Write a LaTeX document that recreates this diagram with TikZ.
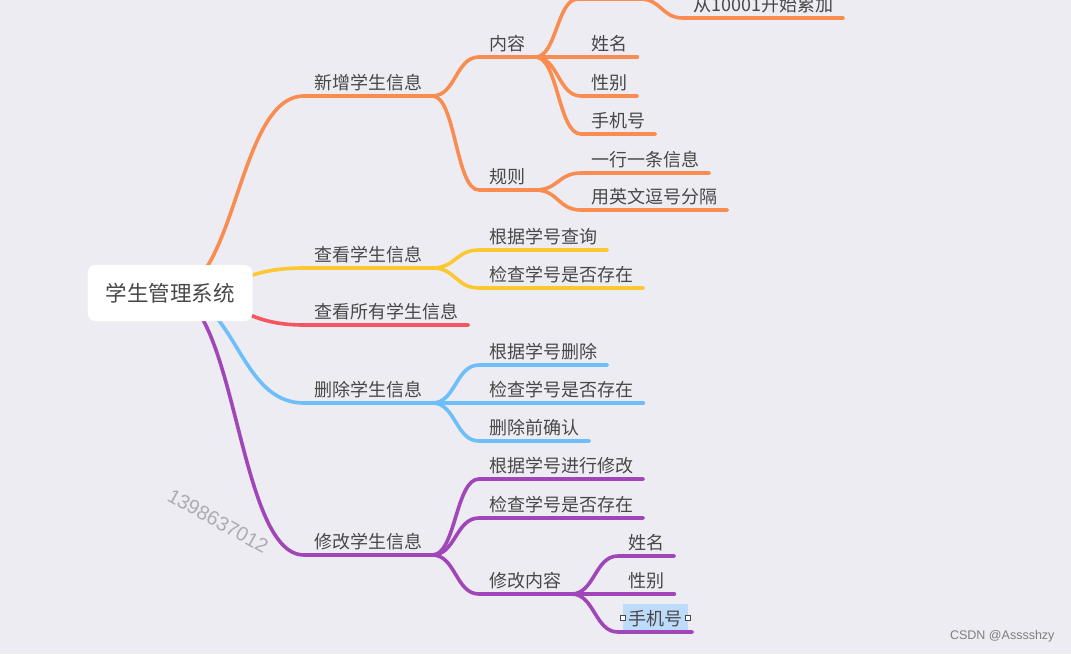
\documentclass[tikz,border=0pt]{standalone}
\usepackage{fontspec}
\setmainfont{Liberation Sans}
\newfontfamily\cjk{Noto Sans CJK SC}
\usetikzlibrary{calc}

\definecolor{paper}{RGB}{236,236,242}
\definecolor{ink}{RGB}{72,72,72}
\definecolor{wm}{RGB}{172,172,178}
\definecolor{cAdd}{RGB}{249,140,80}
\definecolor{cShow}{RGB}{252,200,50}
\definecolor{cAll}{RGB}{245,85,95}
\definecolor{cDel}{RGB}{110,190,250}
\definecolor{cMod}{RGB}{160,70,185}
\definecolor{cSel}{RGB}{190,220,250}

\tikzset{
  topic/.style={anchor=south west, inner xsep=10pt, inner ysep=4pt, text depth=2pt, text=ink,
    font=\cjk\fontsize{18pt}{18pt}\selectfont},
  rootbox/.style={fill=white, rounded corners=8pt, minimum width=165pt, minimum height=56pt,
    text=ink, font=\cjk\fontsize{21.5pt}{21.5pt}\selectfont},
  branch/.style={line width=3.6pt, line cap=round, draw=#1},
  curvy/.style={to path={let \p1=(\tikztostart), \p2=(\tikztotarget) in
    .. controls ({(\x1+\x2)/2},\y1) and ({(\x1+\x2)/2},\y2) .. (\tikztotarget)}},
  handle/.style={draw=ink, fill=white, line width=0.6pt, minimum size=5pt, inner sep=0pt},
}

\begin{document}
\begin{tikzpicture}[x=1pt,y=1pt]
  \useasboundingbox (0,0) rectangle (1071,-654);
  \fill[paper] (0,0) rectangle (1071,-654);

  \coordinate (hub) at (170,-293);
  \node[fill=cSel, minimum width=65pt, minimum height=27pt, inner sep=0pt] (sel) at (655.5,-617.5) {};
  \node[handle] (selw) at (sel.west) {};
  \node[handle] (sele) at (sel.east) {};

  % first level
  \node[topic] (add) at (304,-96) {新增学生信息};
  \node[topic] (show) at (304,-268) {查看学生信息};
  \node[topic] (all) at (304,-325) {查看所有学生信息};
  \node[topic] (del) at (304,-403) {删除学生信息};
  \node[topic] (mod) at (304,-555) {修改学生信息};

  \node[topic] (content) at (479,-57) {内容};
  \node[topic] (rule) at (479,-190) {规则};
  \coordinate (idno-s) at (578,1);
  \coordinate (idno-e) at (640,1);
  \node[topic] (idstart) at (683,-18) {从10001开始累加};
  \node[topic] (name) at (581,-57) {姓名};
  \node[topic] (sex) at (581,-96) {性别};
  \node[topic] (phone) at (581,-134) {手机号};
  \node[topic] (oneline) at (581,-173) {一行一条信息};
  \node[topic] (comma) at (581,-210) {用英文逗号分隔};

  \node[topic] (showid) at (479,-250) {根据学号查询};
  \node[topic] (showchk) at (479,-288) {检查学号是否存在};

  \node[topic] (delid) at (479,-365) {根据学号删除};
  \node[topic] (delchk) at (479,-403) {检查学号是否存在};
  \node[topic] (delok) at (479,-441) {删除前确认};

  \node[topic] (modid) at (479,-479) {根据学号进行修改};
  \node[topic] (modchk) at (479,-518) {检查学号是否存在};
  \node[topic] (modwhat) at (479,-594) {修改内容};
  \node[topic] (mname) at (618,-556) {姓名};
  \node[topic] (msex) at (618,-594) {性别};
  \node[topic] (mphone) at (618,-632) {手机号};

  % branches
  \draw[branch=cAdd] (hub) to[curvy] (add.south west) -- (add.south east);
  \draw[branch=cAdd] (add.south east) to[curvy] (content.south west) -- (content.south east);
  \draw[branch=cAdd] (add.south east) to[curvy] (rule.south west) -- (rule.south east);
  \draw[branch=cAdd] (content.south east) to[curvy] (idno-s) -- (idno-e)
    to[curvy] (idstart.south west) -- (idstart.south east);
  \draw[branch=cAdd] (content.south east) to[curvy] (name.south west) -- (name.south east);
  \draw[branch=cAdd] (content.south east) to[curvy] (sex.south west) -- (sex.south east);
  \draw[branch=cAdd] (content.south east) to[curvy] (phone.south west) -- (phone.south east);
  \draw[branch=cAdd] (rule.south east) to[curvy] (oneline.south west) -- (oneline.south east);
  \draw[branch=cAdd] (rule.south east) to[curvy] (comma.south west) -- (comma.south east);

  \draw[branch=cShow] (hub) to[curvy] (show.south west) -- (show.south east);
  \draw[branch=cShow] (show.south east) to[curvy] (showid.south west) -- (showid.south east);
  \draw[branch=cShow] (show.south east) to[curvy] (showchk.south west) -- (showchk.south east);

  \draw[branch=cAll] (hub) to[curvy] (all.south west) -- (all.south east);

  \draw[branch=cDel] (hub) to[curvy] (del.south west) -- (del.south east);
  \draw[branch=cDel] (del.south east) to[curvy] (delid.south west) -- (delid.south east);
  \draw[branch=cDel] (del.south east) to[curvy] (delchk.south west) -- (delchk.south east);
  \draw[branch=cDel] (del.south east) to[curvy] (delok.south west) -- (delok.south east);

  \draw[branch=cMod] (hub) to[curvy] (mod.south west) -- (mod.south east);
  \draw[branch=cMod] (mod.south east) to[curvy] (modid.south west) -- (modid.south east);
  \draw[branch=cMod] (mod.south east) to[curvy] (modchk.south west) -- (modchk.south east);
  \draw[branch=cMod] (mod.south east) to[curvy] (modwhat.south west) -- (modwhat.south east);
  \draw[branch=cMod] (modwhat.south east) to[curvy] (mname.south west) -- (mname.south east);
  \draw[branch=cMod] (modwhat.south east) to[curvy] (msex.south west) -- (msex.south east);
  \draw[branch=cMod] (modwhat.south east) to[curvy] (mphone.south west) -- (mphone.south east);

  \node[rootbox] (sys) at (hub) {学生管理系统};

  \node[rotate=-29, text=wm, font=\fontsize{20pt}{20pt}\selectfont] (mark) at (218,-521) {1398637012};
  \node[anchor=east, text=ink!70, font=\fontsize{12.5pt}{12.5pt}\selectfont] (csdn) at (1058,-636) {CSDN @Asssshzy};
\end{tikzpicture}
\end{document}
